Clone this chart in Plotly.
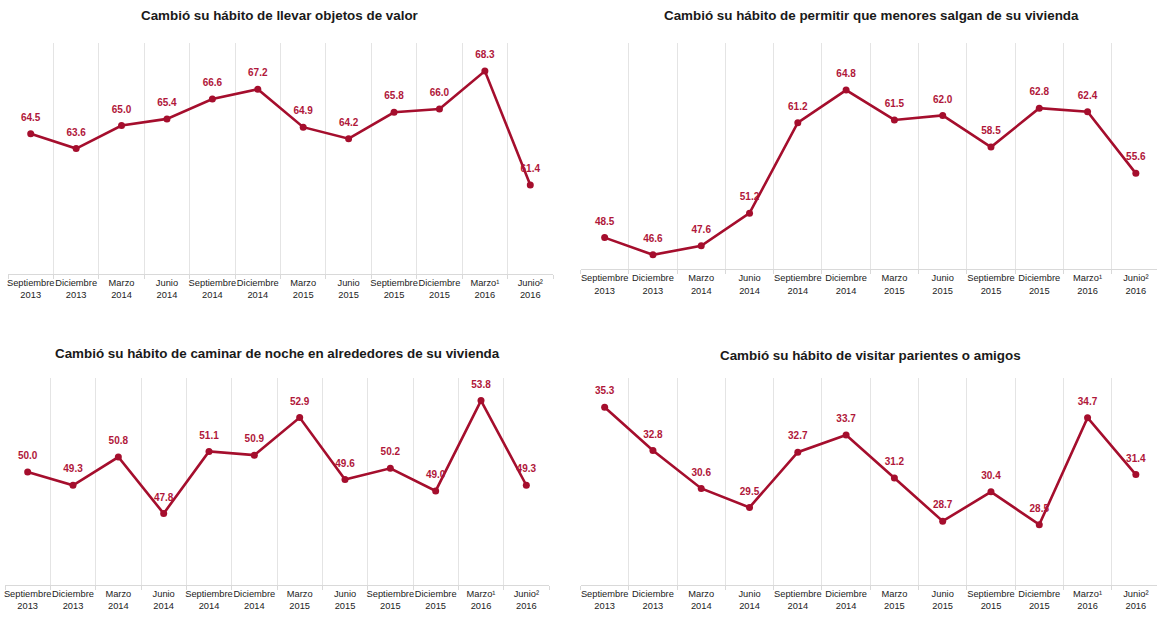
import plotly.graph_objects as go

categorias = ["Septiembre<br>2013", "Diciembre<br>2013", "Marzo<br>2014", "Junio<br>2014",
              "Septiembre<br>2014", "Diciembre<br>2014", "Marzo<br>2015", "Junio<br>2015",
              "Septiembre<br>2015", "Diciembre<br>2015", "Marzo¹<br>2016", "Junio²<br>2016"]

objetos_valor = [64.5, 63.6, 65.0, 65.4, 66.6, 67.2, 64.9, 64.2, 65.8, 66.0, 68.3, 61.4]
menores_salgan = [48.5, 46.6, 47.6, 51.2, 61.2, 64.8, 61.5, 62.0, 58.5, 62.8, 62.4, 55.6]
caminar_noche = [50.0, 49.3, 50.8, 47.8, 51.1, 50.9, 52.9, 49.6, 50.2, 49.0, 53.8, 49.3]
visitar_parientes = [35.3, 32.8, 30.6, 29.5, 32.7, 33.7, 31.2, 28.7, 30.4, 28.5, 34.7, 31.4]

titulos = ["Cambió su hábito de llevar objetos de valor",
           "Cambió su hábito de permitir que menores salgan de su vivienda",
           "Cambió su hábito de caminar de noche en alrededores de su vivienda",
           "Cambió su hábito de visitar parientes o amigos"]

series = [objetos_valor, menores_salgan, caminar_noche, visitar_parientes]
y_rangos = [[56, 70], [45, 70], [44, 55], [25, 37]]

W, H = 1157, 617
# panel geometry in pixels: (left, right, top, bottom)
paneles = [(8, 553, 43, 274), (580.5, 1160, 43, 269.3), (5, 549, 378, 585), (580.5, 1160, 378, 585)]
titulo_pos = [(280, 16), (871, 16), (277, 353), (870, 355)]

FONT = "Liberation Sans, Arial, sans-serif"
LINE = "#a50e2d"
LABEL = "#b0173a"

fig = go.Figure()
for i, vals in enumerate(series):
    n = i + 1
    xa = "x" if n == 1 else f"x{n}"
    ya = "y" if n == 1 else f"y{n}"
    fig.add_trace(go.Scatter(
        x=categorias, y=vals, xaxis=xa, yaxis=ya,
        mode="lines+markers",
        line=dict(color=LINE, width=2.6),
        marker=dict(color=LINE, size=7),
        cliponaxis=False, showlegend=False, hoverinfo="x+y",
    ))
    # data labels (invisible larger markers give the labels their offset)
    fig.add_trace(go.Scatter(
        x=categorias, y=vals, xaxis=xa, yaxis=ya,
        mode="markers+text",
        marker=dict(color=LINE, size=15, opacity=0),
        text=[f"{v:.1f}" for v in vals],
        textposition="top center",
        textfont=dict(family=FONT, size=10, color=LABEL, weight="bold"),
        cliponaxis=False, showlegend=False, hoverinfo="skip",
    ))
    l, r, t, b = paneles[i]
    r_vis = min(r, W)
    cat_w = (r - l) / 12.0
    x_end = -0.5 + (r_vis - l) / cat_w
    ax_x = dict(
        domain=[l / W, r_vis / W], anchor=ya, type="category",
        range=[-0.5, x_end],
        showgrid=True, gridcolor="#e4e4e4", gridwidth=1,
        tickson="boundaries", ticks="outside", ticklen=4, tickcolor="#d9d9d9",
        showline=True, linecolor="#d9d9d9", linewidth=1,
        tickangle=0,
        tickfont=dict(family=FONT, size=9.3, color="#222222"),
        automargin=False, fixedrange=True,
    )
    ax_y = dict(
        domain=[1 - b / H, 1 - t / H], anchor=xa, range=y_rangos[i],
        showgrid=False, zeroline=False, showticklabels=False, showline=False,
        ticks="", automargin=False, fixedrange=True,
    )
    fig.layout[f"xaxis{'' if n == 1 else n}"] = ax_x
    fig.layout[f"yaxis{'' if n == 1 else n}"] = ax_y
    tx, ty = titulo_pos[i]
    fig.add_annotation(
        text=titulos[i], xref="paper", yref="paper",
        x=tx / W, y=1 - ty / H, xanchor="center", yanchor="middle",
        showarrow=False,
        font=dict(family=FONT, size=13.4, color="#1a1a1a", weight="bold"),
    )

fig.update_layout(
    width=W, height=H,
    margin=dict(l=0, r=0, t=0, b=0),
    paper_bgcolor="white", plot_bgcolor="white",
)

fig.write_html("out.html", config={"displayModeBar": False},
               post_script="document.body.style.margin='0';")
